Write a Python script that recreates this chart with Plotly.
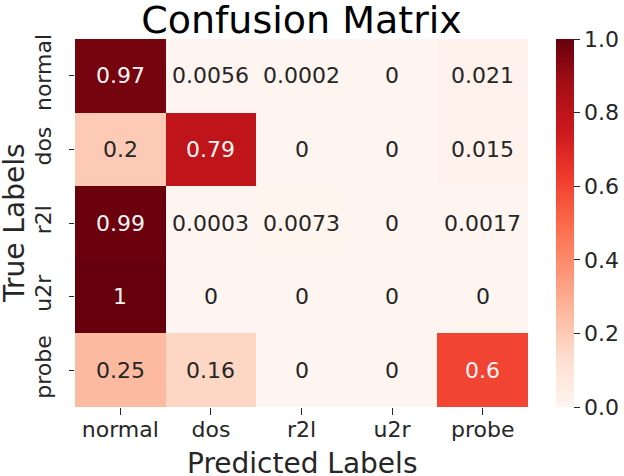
import plotly.graph_objects as go

labels = ["normal", "dos", "r2l", "u2r", "probe"]
values = [
    [0.97, 0.0056, 0.0002, 0, 0.021],
    [0.2, 0.79, 0, 0, 0.015],
    [0.99, 0.0003, 0.0073, 0, 0.0017],
    [1, 0, 0, 0, 0],
    [0.25, 0.16, 0, 0, 0.6],
]
text_labels = [
    ["0.97", "0.0056", "0.0002", "0", "0.021"],
    ["0.2", "0.79", "0", "0", "0.015"],
    ["0.99", "0.0003", "0.0073", "0", "0.0017"],
    ["1", "0", "0", "0", "0"],
    ["0.25", "0.16", "0", "0", "0.6"],
]
cbar_ticks = [0, 0.2, 0.4, 0.6, 0.8, 1.0]
cbar_ticktext = ["0.0", "0.2", "0.4", "0.6", "0.8", "1.0"]

reds = ['rgb(255,245,240)', 'rgb(254,224,210)', 'rgb(252,187,161)', 'rgb(252,146,114)',
        'rgb(251,106,74)', 'rgb(239,59,44)', 'rgb(203,24,29)', 'rgb(165,15,21)', 'rgb(103,0,13)']
colorscale = [[i / 8, c] for i, c in enumerate(reds)]

FONT = "DejaVu Sans"
DARK = "#262626"

fig = go.Figure(go.Heatmap(
    z=values, x=labels, y=labels, zmin=0, zmax=1, colorscale=colorscale,
    xgap=0, ygap=0,
    colorbar=dict(x=1.062, xanchor="left", xpad=0, ypad=0, y=0, yanchor="bottom",
                  len=1, lenmode="fraction",
                  thickness=18, outlinewidth=0, ticks="outside", ticklen=6, tickwidth=1,
                  tickcolor=DARK, tickvals=cbar_ticks, ticktext=cbar_ticktext,
                  tickfont=dict(family=FONT, size=22, color=DARK)),
    hoverinfo="skip",
))

annotations = []
for i, row in enumerate(values):
    for j, v in enumerate(row):
        annotations.append(dict(
            x=labels[j], y=labels[i], text=text_labels[i][j], showarrow=False,
            font=dict(family=FONT, size=22, color="#f5f5f5" if v > 0.55 else DARK),
        ))

# axis titles placed as annotations relative to the plot area
annotations.append(dict(text="Predicted Labels", xref="paper", yref="paper", x=0.5, y=0,
                        xanchor="center", yanchor="middle", yshift=-56, showarrow=False,
                        font=dict(family=FONT, size=28, color=DARK)))
annotations.append(dict(text="True Labels", xref="paper", yref="paper", x=0, y=0.5,
                        xanchor="center", yanchor="middle", xshift=-61, textangle=-90,
                        showarrow=False, font=dict(family=FONT, size=28, color=DARK)))

fig.update_layout(
    width=624, height=476,
    margin=dict(l=75, r=96, t=39, b=69, autoexpand=False),
    paper_bgcolor="white", plot_bgcolor="white",
    title=dict(text="Confusion Matrix", x=301.5 / 624, xanchor="center",
               y=1 - 20 / 476, yanchor="middle",
               font=dict(family=FONT, size=38, color="black")),
    annotations=annotations,
    xaxis=dict(tickfont=dict(family=FONT, size=22, color=DARK), ticks="outside", ticklen=7,
               tickcolor=DARK, ticklabelstandoff=-4, showgrid=False, zeroline=False, showline=False),
    yaxis=dict(tickfont=dict(family=FONT, size=22, color=DARK), ticks="outside", ticklen=5,
               tickcolor=DARK, tickangle=-90, autorange="reversed", ticklabelstandoff=9,
               showgrid=False, zeroline=False, showline=False),
)

fig.write_html("out.html", config={"displayModeBar": False},
               post_script="document.body.style.margin='0';document.body.style.overflow='hidden';")
